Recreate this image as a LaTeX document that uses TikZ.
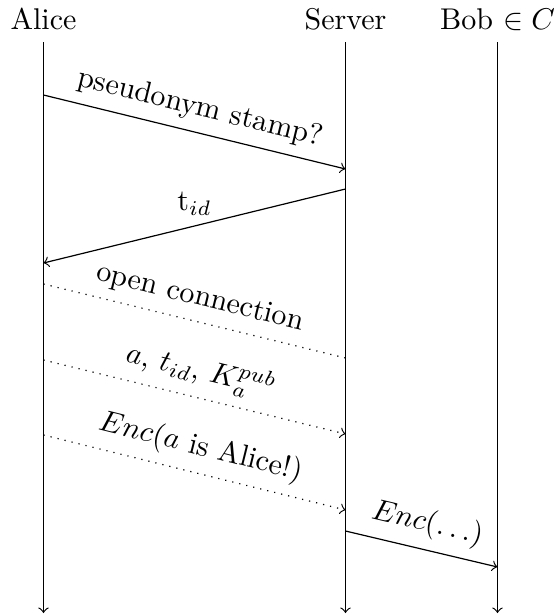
\documentclass[tikz,border=0pt]{standalone}
\begin{document}
\begin{tikzpicture}[x=0.3333pt,y=-0.3333pt,
  actor/.style={anchor=base,inner sep=0pt},
  life/.style={->},
  msg/.style={->},
  dmsg/.style={dotted},
  lbl/.style={above,sloped,midway}]
\useasboundingbox (0,0) rectangle (558,614);
\node[actor] (alice) at (43.5,29) {Alice};
\node[actor] (server) at (345.5,29) {Server};
\node[actor] (bob) at (497.5,29) {Bob $\in C$};
% lifelines
\coordinate (aT) at (43.5,42);  \coordinate (aB) at (43.5,613);
\coordinate (sT) at (345.5,42); \coordinate (sB) at (345.5,613);
\coordinate (bT) at (497.5,42); \coordinate (bB) at (497.5,613);
\draw[life] (aT) -- (aB);
\draw[life] (sT) -- (sB);
\draw[life] (bT) -- (bB);
% message endpoints
\coordinate (a1) at (43.5,95);  \coordinate (s1) at (345.5,169);
\coordinate (s2) at (345.5,189); \coordinate (a2) at (43.5,263);
\coordinate (a3) at (43.5,284); \coordinate (s3) at (345.5,358);
\coordinate (a4) at (43.5,360); \coordinate (s4) at (345.5,434);
\coordinate (a5) at (43.5,435); \coordinate (s5) at (345.5,510);
\coordinate (s6) at (345.5,531); \coordinate (b6) at (497.5,567);
\draw[msg] (a1) -- node[lbl] (l1) {pseudonym stamp?} (s1);
\draw[msg] (s2) -- node[above,midway] (l2) {t$_{id}$} (a2);
\draw[dmsg] (a3) -- node[lbl] (l3) {open connection} (s3);
\draw[dmsg,->] (a4) -- node[lbl] (l4) {$a$, $t_{id}$, $K_a^{pub}$} (s4);
\draw[dmsg,->] (a5) -- node[lbl] (l5) {$Enc(a$ is Alice!$)$} (s5);
\draw[msg] (s6) -- node[lbl] (l6) {$Enc(\dots)$} (b6);
\end{tikzpicture}
\end{document}
